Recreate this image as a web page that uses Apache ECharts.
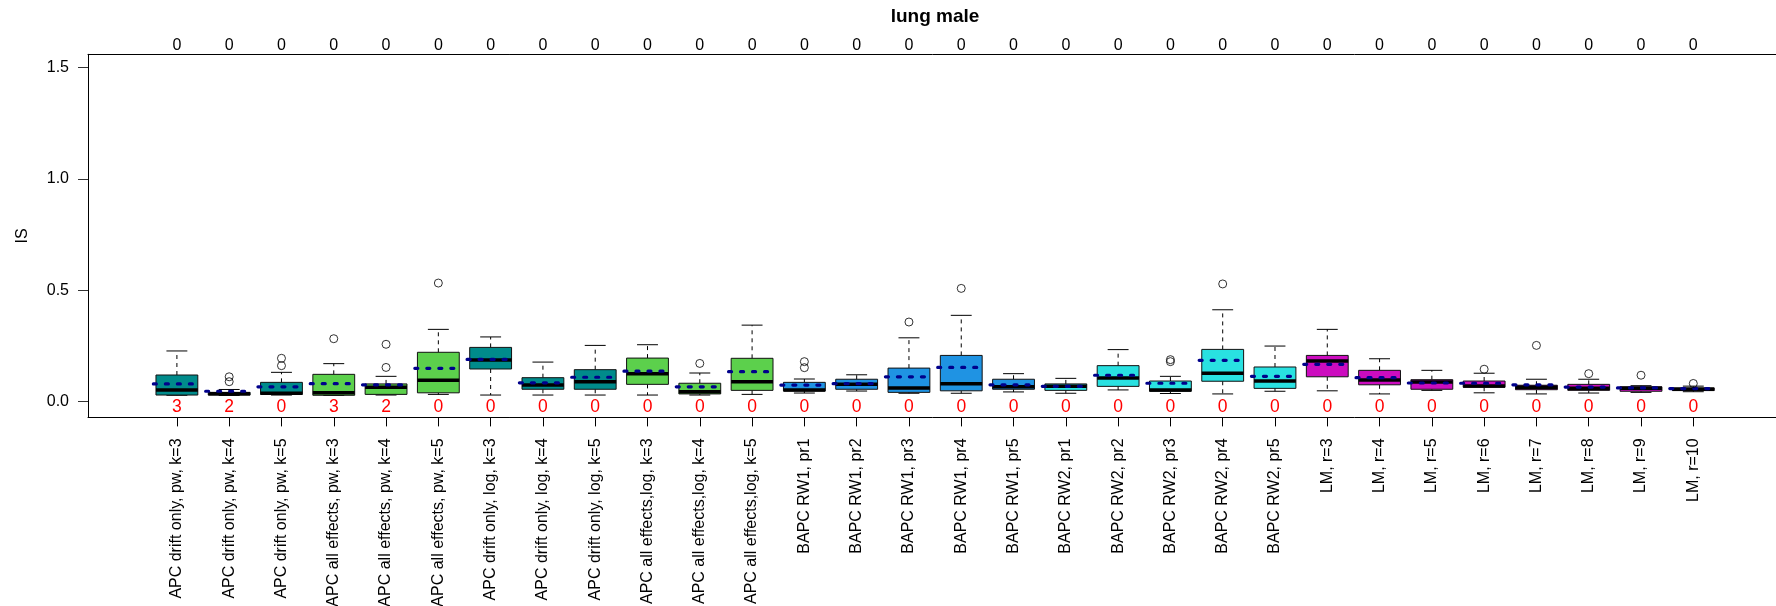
<!DOCTYPE html>
<html><head><meta charset="utf-8">
<script src="https://cdn.jsdelivr.net/npm/echarts@6/dist/echarts.min.js"></script>
<style>html,body{margin:0;padding:0;background:#fff}#c{width:1776px;height:606px}</style>
</head><body><div id="c"></div>
<script>
const categories = [
  "APC drift only, pw, k=3","APC drift only, pw, k=4","APC drift only, pw, k=5",
  "APC all effects, pw, k=3","APC all effects, pw, k=4","APC all effects, pw, k=5",
  "APC drift only, log, k=3","APC drift only, log, k=4","APC drift only, log, k=5",
  "APC all effects,log, k=3","APC all effects,log, k=4","APC all effects,log, k=5",
  "BAPC RW1, pr1","BAPC RW1, pr2","BAPC RW1, pr3","BAPC RW1, pr4","BAPC RW1, pr5",
  "BAPC RW2, pr1","BAPC RW2, pr2","BAPC RW2, pr3","BAPC RW2, pr4","BAPC RW2, pr5",
  "LM, r=3","LM, r=4","LM, r=5","LM, r=6","LM, r=7","LM, r=8","LM, r=9","LM, r=10"
];
const groups = [
  "drift","drift","drift","all","all","all","drift","drift","drift","all","all","all",
  "rw1","rw1","rw1","rw1","rw1","rw2","rw2","rw2","rw2","rw2",
  "lm","lm","lm","lm","lm","lm","lm","lm"
];
const lowerWhisker = [0.029,0.028,0.030,0.028,0.030,0.033,0.030,0.030,0.030,0.030,0.030,0.033,0.039,0.048,0.038,0.038,0.044,0.038,0.053,0.037,0.035,0.047,0.049,0.035,0.051,0.040,0.035,0.039,0.042,0.045];
const q1 = [0.030,0.030,0.033,0.029,0.033,0.040,0.147,0.056,0.056,0.078,0.035,0.051,0.048,0.056,0.042,0.049,0.056,0.051,0.069,0.047,0.092,0.060,0.112,0.076,0.056,0.065,0.054,0.051,0.047,0.050];
const median = [0.053,0.036,0.038,0.040,0.065,0.096,0.187,0.075,0.090,0.126,0.045,0.090,0.053,0.078,0.062,0.081,0.067,0.069,0.106,0.053,0.128,0.093,0.183,0.098,0.089,0.071,0.065,0.060,0.060,0.056];
const q3 = [0.120,0.042,0.087,0.123,0.080,0.222,0.244,0.108,0.144,0.196,0.083,0.195,0.087,0.101,0.151,0.208,0.101,0.080,0.162,0.093,0.235,0.156,0.208,0.141,0.099,0.093,0.074,0.078,0.067,0.062];
const upperWhisker = [0.228,0.055,0.132,0.171,0.114,0.325,0.291,0.178,0.253,0.256,0.129,0.344,0.102,0.121,0.287,0.388,0.126,0.105,0.234,0.114,0.413,0.250,0.325,0.193,0.141,0.128,0.101,0.101,0.072,0.070];
const means = [0.080,0.047,0.067,0.081,0.076,0.150,0.190,0.085,0.110,0.137,0.067,0.135,0.075,0.081,0.112,0.154,0.076,0.069,0.119,0.083,0.186,0.114,0.168,0.108,0.084,0.083,0.076,0.066,0.062,0.059];
// outliers: [box number (1-based), value]
const outliers = [[2,0.090],[2,0.112],[3,0.162],[3,0.195],[4,0.283],[5,0.154],[5,0.258],[6,0.533],[11,0.172],[13,0.153],[13,0.180],[15,0.358],[16,0.509],[20,0.180],[20,0.189],[21,0.529],[26,0.146],[27,0.253],[28,0.126],[29,0.119],[30,0.082]];
const bottomCounts = [3,2,0,3,2,0,0,0,0,0,0,0,0,0,0,0,0,0,0,0,0,0,0,0,0,0,0,0,0,0];
const topCounts = [0,0,0,0,0,0,0,0,0,0,0,0,0,0,0,0,0,0,0,0,0,0,0,0,0,0,0,0,0,0];
const yTicks = [0, 0.5, 1.0, 1.5];
const countLevel = -0.024;

const groupColors = {drift:"#008B8B", all:"#5CD04C", rw1:"#1F93E3", rw2:"#29E1E1", lm:"#CC0CBF"};
const FONT = '"Liberation Sans", Arial, Helvetica, sans-serif';
const FS = 16;
const positions = categories.map((_, i) => i + 1);

const boxData = categories.map((_, i) => [i + 1, lowerWhisker[i], q1[i], median[i], q3[i], upperWhisker[i], means[i]]);

function renderBox(params, api) {
  const x = api.value(0);
  const lw = api.value(1), b1 = api.value(2), md = api.value(3), b3 = api.value(4), uw = api.value(5), mn = api.value(6);
  const c = (dx, v) => api.coord([x + dx, v]);
  const color = groupColors[groups[params.dataIndex]];
  const tl = c(-0.4, b3), br = c(0.4, b1);
  const children = [];
  const line = (p1, p2, style) => ({type: 'line', shape: {x1: p1[0], y1: p1[1], x2: p2[0], y2: p2[1]}, style: style});
  const wStyle = {stroke: '#000', lineWidth: 1, lineDash: [4, 4]};
  const sStyle = {stroke: '#000', lineWidth: 1};
  children.push(line(c(0, b3), c(0, uw), wStyle));
  children.push(line(c(0, b1), c(0, lw), wStyle));
  children.push(line(c(-0.2, uw), c(0.2, uw), sStyle));
  children.push(line(c(-0.2, lw), c(0.2, lw), sStyle));
  children.push({type: 'rect', shape: {x: tl[0], y: tl[1], width: br[0] - tl[0], height: br[1] - tl[1]}, style: {fill: color, stroke: '#111', lineWidth: 1}});
  children.push(line(c(-0.4, md), c(0.4, md), {stroke: '#000', lineWidth: 3.5}));
  children.push(line(c(-0.45, mn), c(0.45, mn), {stroke: '#00008B', lineWidth: 3.2, lineDash: [3, 9], lineCap: 'round'}));
  return {type: 'group', children: children};
}

function renderCount(params, api) {
  const p = api.coord([api.value(0), api.value(1)]);
  return {type: 'text', x: p[0], y: p[1], style: {text: String(api.value(2)), fill: '#FF0000', font: '17.5px ' + FONT, align: 'center', verticalAlign: 'middle'}};
}

const chart = echarts.init(document.getElementById('c'));
chart.setOption({
  animation: false,
  backgroundColor: '#fff',
  grid: {left: 88, top: 54.3, width: 1694.2, height: 363.1, containLabel: false, outerBoundsMode: 'none'},
  graphic: [{type: 'text', x: 935, y: 17, style: {text: 'lung male', font: 'bold 19px ' + FONT, fill: '#000', align: 'center', verticalAlign: 'middle'}}],
  xAxis: [
    {type: 'value', min: -0.7, max: 31.7, position: 'bottom',
     axisLine: {show: true, onZero: false, lineStyle: {color: '#000', width: 1}},
     axisTick: {show: true, customValues: positions, length: 9, inside: false, lineStyle: {color: '#000'}},
     axisLabel: {show: true, customValues: positions, rotate: 90, margin: 21, fontSize: FS, fontFamily: FONT, color: '#000',
       formatter: v => categories[Math.round(v) - 1] || ''},
     splitLine: {show: false}},
    {type: 'value', min: -0.7, max: 31.7, position: 'top',
     axisLine: {show: true, onZero: false, lineStyle: {color: '#000', width: 1}},
     axisTick: {show: false},
     axisLabel: {show: true, customValues: positions, margin: 1, fontSize: FS, fontFamily: FONT, color: '#000',
       formatter: v => String(topCounts[Math.round(v) - 1])},
     splitLine: {show: false}},
  ],
  yAxis: {type: 'value', min: -0.0704, max: 1.5604,
    name: 'IS', nameLocation: 'middle', nameGap: 57, nameRotate: 90,
    nameTextStyle: {fontSize: FS, fontFamily: FONT, color: '#000'},
    axisLine: {show: true, onZero: false, lineStyle: {color: '#000', width: 1}},
    axisTick: {show: true, customValues: yTicks, length: 10, lineStyle: {color: '#333'}},
    axisLabel: {show: true, customValues: yTicks, margin: 19, fontSize: FS, fontFamily: FONT, color: '#000',
      formatter: v => v.toFixed(1)},
    splitLine: {show: false}},
  series: [
    {type: 'custom', name: 'boxes', xAxisIndex: 0, renderItem: renderBox, data: boxData, clip: false, z: 2},
    {type: 'scatter', name: 'outliers', xAxisIndex: 0, data: outliers, symbol: 'circle', symbolSize: 8,
     itemStyle: {color: 'rgba(0,0,0,0)', borderColor: '#000', borderWidth: 1}, z: 3},
    {type: 'custom', name: 'counts', xAxisIndex: 0, renderItem: renderCount, clip: false, z: 4,
     data: bottomCounts.map((n, i) => [i + 1, countLevel, n])}
  ]
});
</script>
</body></html>
